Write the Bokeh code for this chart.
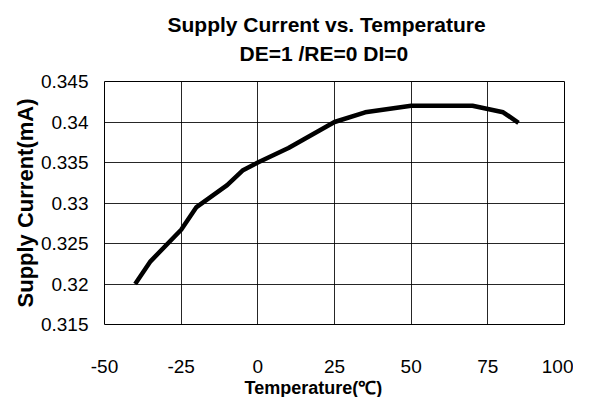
from bokeh.plotting import figure
from bokeh.models import FixedTicker, Title, Range1d
from bokeh.embed import file_html
from bokeh.resources import INLINE

temps = [-40, -35, -25, -20, -10, -5, 0, 10, 25, 35, 50, 70, 80, 85]
current = [0.3200, 0.3228, 0.3267, 0.3295, 0.3322, 0.3340, 0.3350, 0.3368,
           0.3400, 0.3412, 0.3420, 0.3420, 0.3412, 0.3399]

x_ticks = [-50, -25, 0, 25, 50, 75, 100]
x_labels = ["-50", "-25", "0", "25", "50", "75", "100"]
y_ticks = [0.315, 0.32, 0.325, 0.33, 0.335, 0.34, 0.345]
y_labels = ["0.315", "0.32", "0.325", "0.33", "0.335", "0.34", "0.345"]

title_1 = "Supply Current vs. Temperature"
title_2 = "DE=1 /RE=0 DI=0"
x_title = "Temperature(℃)"
y_title = "Supply Current(mA)"

FONT = "Liberation Sans"

p = figure(width=573, height=397, output_backend="svg", toolbar_location=None,
           x_range=Range1d(-50, 100), y_range=Range1d(0.315, 0.345),
           min_border_left=104, min_border_right=9, min_border_top=81,
           min_border_bottom=73)

p.title = None
# stacked from the frame outward: spacer, line 2, line 1
spacer = Title(text=" ", text_font_size="1px", standoff=14)
t2 = Title(text=title_2, align="left", offset=135, text_font=FONT,
           text_font_size="21px", text_font_style="bold", text_color="black",
           standoff=0)
t1 = Title(text=title_1, align="left", offset=63, text_font=FONT,
           text_font_size="21px", text_font_style="bold", text_color="black",
           standoff=7)
p.add_layout(spacer, "above")
p.add_layout(t2, "above")
p.add_layout(t1, "above")

p.line(temps, current, line_color="black", line_width=4.5)

p.xaxis.ticker = FixedTicker(ticks=x_ticks)
p.yaxis.ticker = FixedTicker(ticks=y_ticks)
p.xaxis.major_label_overrides = {v: s for v, s in zip(x_ticks, x_labels)}
p.yaxis.major_label_overrides = {v: s for v, s in zip(y_ticks, y_labels)}

for ax in (p.xaxis, p.yaxis):
    ax.axis_line_color = None
    ax.major_tick_line_color = None
    ax.minor_tick_line_color = None
    ax.major_label_text_font = FONT
    ax.major_label_text_font_size = "19px"
    ax.major_label_text_color = "black"

p.yaxis.major_tick_out = 0
p.yaxis.major_tick_in = 0
p.yaxis.axis_label = y_title
p.yaxis.axis_label_text_font = FONT
p.yaxis.axis_label_text_font_style = "bold"
p.yaxis.axis_label_text_font_size = "22px"
p.yaxis.axis_label_text_color = "black"
p.yaxis.axis_label_standoff = 0
p.yaxis.major_label_standoff = 16
p.xaxis.major_label_standoff = 29

xt = Title(text=x_title, align="left", offset=140, text_font=FONT,
           text_font_size="18px", text_font_style="bold", text_color="black",
           standoff=0)
p.add_layout(xt, "below")

p.xgrid.ticker = FixedTicker(ticks=x_ticks)
p.ygrid.ticker = FixedTicker(ticks=y_ticks)
p.grid.grid_line_color = "black"
p.grid.grid_line_width = 1
p.grid.grid_line_alpha = 0.85

p.outline_line_color = "black"
p.outline_line_width = 1
p.background_fill_color = "white"
p.border_fill_color = "white"

open("out.html", "w").write(file_html(p, INLINE))
